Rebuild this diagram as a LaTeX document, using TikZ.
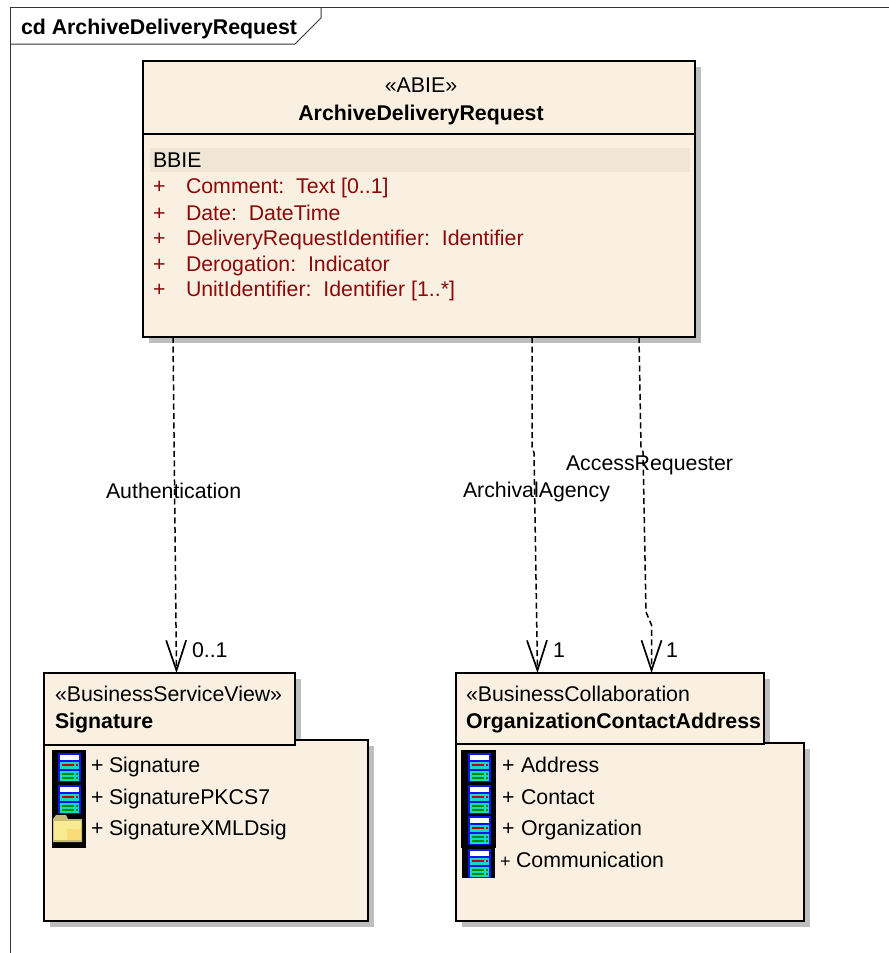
\documentclass[tikz,border=0pt]{standalone}
\usepackage{fontspec}
\setmainfont{Liberation Sans}
\usetikzlibrary{arrows.meta}
\definecolor{boxfill}{HTML}{FAF0E2}
\definecolor{bandfill}{HTML}{EFE6D8}
\definecolor{shadowfill}{HTML}{BEBEBE}
\definecolor{attrred}{HTML}{8B0A0A}
\definecolor{iconblue}{HTML}{0A14F0}
\definecolor{iconcyan}{HTML}{14D8C0}
\definecolor{foldery}{HTML}{F8EB90}
\tikzset{
  umlbox/.style={draw,line width=1.8bp,fill=boxfill,anchor=north west,inner sep=0pt,outer sep=0pt},
  umltext/.style={anchor=base west,inner sep=0pt,outer sep=0pt,yshift=-1bp,font=\fontsize{21.4}{25}\selectfont},
  umlbold/.style={umltext,font=\fontsize{21.4}{25}\selectfont\bfseries},
  attr/.style={umltext,text=attrred},
  depline/.style={line width=1.5bp,dash pattern=on 6bp off 3.5bp,-{Straight Barb[length=30bp,width=20bp,line width=1.7bp]}},
  servericon/.pic={
    \fill[iconblue] (0bp,0bp) rectangle (23bp,-29bp);
    \fill[white] (2bp,-1.5bp) rectangle (21bp,-6.5bp);
    \fill[iconcyan] (2bp,-8.5bp) rectangle (21bp,-16bp);
    \fill[iconcyan] (2bp,-17.5bp) rectangle (21bp,-27.5bp);
    \fill[red!75!black] (4bp,-11bp) rectangle (16bp,-13bp);
    \fill[red!75!black] (18bp,-11bp) rectangle (19.5bp,-13bp);
    \fill[green!55!black] (4bp,-20bp) rectangle (16bp,-21.7bp);
    \fill[green!55!black] (4bp,-24bp) rectangle (16bp,-25.7bp);
    \fill[green!55!black] (18bp,-20bp) rectangle (19.5bp,-21.7bp);
    \fill[green!55!black] (18bp,-24bp) rectangle (19.5bp,-25.7bp);
  },
  foldericon/.pic={
    \fill[foldery!80!black] (0bp,-4bp) -- (3bp,0bp) -- (13bp,0bp) -- (15bp,-4bp) -- (29bp,-4bp) -- (29bp,-27bp) -- (0bp,-27bp) -- cycle;
    \fill[foldery] (1bp,-6bp) rectangle (28bp,-25bp);
    \fill[orange!15!foldery] (14bp,-14bp) rectangle (28bp,-25bp);
  }
}
\begin{document}
\begin{tikzpicture}
\useasboundingbox (0bp,0bp) rectangle (889bp,-953bp);
% frame
\draw [line width=1bp,black!80] (10bp,-953bp) -- (10bp,-7bp) -- (889bp,-7bp);
\draw [line width=1bp,black!80] (10bp,-44bp) -- (295bp,-44bp) -- (321bp,-18bp) -- (321bp,-7bp);
\node (title) at (21bp,-33bp)[umlbold] {cd ArchiveDeliveryRequest};
% shadows
\fill [shadowfill] (149bp,-67bp) rectangle (701bp,-343bp);
\fill [shadowfill] (50bp,-679bp) rectangle (301bp,-751bp);
\fill [shadowfill] (50bp,-746bp) rectangle (374bp,-927bp);
\fill [shadowfill] (462bp,-679bp) rectangle (770bp,-750bp);
\fill [shadowfill] (462bp,-749bp) rectangle (810bp,-927bp);
% ABIE class
\node (abie) at (143bp,-61bp)[umlbox,minimum width=552bp,minimum height=276bp] {};
\draw [line width=1.8bp] (abie.west |- 0,-134bp) -- (abie.east |- 0,-134bp);
\node (band) at (150bp,-148bp)[anchor=north west,fill=bandfill,inner sep=0pt,minimum width=540bp,minimum height=24bp] {};
\node (stereo) at (421bp,-91bp)[umltext,anchor=base] {«ABIE»};
\node (abiename) at (421bp,-119bp)[umlbold,anchor=base] {ArchiveDeliveryRequest};
\node (bbie) at (153bp,-166bp)[umltext] {BBIE};
\node (p1) at (153bp,-192bp)[attr] {+};
\node (p2) at (153bp,-219bp)[attr] {+};
\node (p3) at (153bp,-244bp)[attr] {+};
\node (p4) at (153bp,-270bp)[attr] {+};
\node (p5) at (153bp,-295bp)[attr] {+};
\node (a1) at (186bp,-192bp)[attr] {Comment:\ \ Text [0..1]};
\node (a2) at (186bp,-219bp)[attr] {Date:\ \ DateTime};
\node (a3) at (186bp,-244bp)[attr] {DeliveryRequestIdentifier:\ \ Identifier};
\node (a4) at (186bp,-270bp)[attr] {Derogation:\ \ Indicator};
\node (a5) at (186bp,-295bp)[attr] {UnitIdentifier:\ \ Identifier [1..*]};
% Signature package
\node (sigbody) at (44bp,-740bp)[umlbox,minimum width=324bp,minimum height=181bp] {};
\node (sigtab) at (44bp,-673bp)[umlbox,minimum width=251bp,minimum height=72bp] {};
\node (sigstereo) at (55bp,-700bp)[umltext] {«BusinessServiceView»};
\node (signame) at (55bp,-727bp)[umlbold] {Signature};
\fill (52bp,-750bp) rectangle (86bp,-848bp);
\pic at (58bp,-753bp) {servericon};
\pic at (58bp,-785bp) {servericon};
\pic at (53bp,-815bp) {foldericon};
\node (s1p) at (91bp,-771bp)[umltext] {+};
\node (s2p) at (91bp,-803bp)[umltext] {+};
\node (s3p) at (91bp,-834bp)[umltext] {+};
\node (s1) at (109bp,-771bp)[umltext] {Signature};
\node (s2) at (109bp,-803bp)[umltext] {SignaturePKCS7};
\node (s3) at (109bp,-834bp)[umltext] {SignatureXMLDsig};
% Organization package
\node (orgbody) at (456bp,-743bp)[umlbox,minimum width=348bp,minimum height=178bp] {};
\node (orgtab) at (456bp,-673bp)[umlbox,minimum width=308bp,minimum height=71bp] {};
\node (orgstereo) at (466bp,-700bp)[umltext] {«BusinessCollaboration};
\node (orgname) at (466bp,-727bp)[umlbold] {OrganizationContactAddress};
\fill (461bp,-750bp) rectangle (496bp,-848bp);
\fill (462bp,-848bp) rectangle (495bp,-878bp);
\pic at (468bp,-753bp) {servericon};
\pic at (468bp,-785bp) {servericon};
\pic at (468bp,-816bp) {servericon};
\pic at (468bp,-849bp) {servericon};
\node (o1p) at (502bp,-771bp)[umltext] {+};
\node (o2p) at (502bp,-803bp)[umltext] {+};
\node (o3p) at (502bp,-834bp)[umltext] {+};
\node (o4p) at (500bp,-866bp)[umltext,font=\fontsize{18}{20}\selectfont] {+};
\node (o1) at (521bp,-771bp)[umltext] {Address};
\node (o2) at (521bp,-803bp)[umltext] {Contact};
\node (o3) at (521bp,-834bp)[umltext] {Organization};
\node (o4) at (516bp,-866bp)[umltext] {Communication};
% connectors
\draw [depline] ([xshift=30bp]abie.south west) -- ([xshift=132.5bp]sigtab.north west);
\draw [depline] ([xshift=389bp]abie.south west) -- (532bp,-447bp) -- (534bp,-453bp) -- ([xshift=81.5bp]orgtab.north west);
\draw [depline] ([xshift=496bp]abie.south west) -- (641bp,-447bp) -- (643bp,-452bp) -- (646bp,-612bp) -- (651.5bp,-625bp) -- ([xshift=195.5bp]orgtab.north west);
\node (lauth) at (106bp,-497bp)[umltext] {Authentication};
\node (larch) at (463bp,-496bp)[umltext] {ArchivalAgency};
\node (lacc) at (566bp,-469bp)[umltext] {AccessRequester};
\node (m1) at (192bp,-656bp)[umltext] {0..1};
\node (m2) at (553bp,-656bp)[umltext] {1};
\node (m3) at (666bp,-656bp)[umltext] {1};
\end{tikzpicture}
\end{document}
